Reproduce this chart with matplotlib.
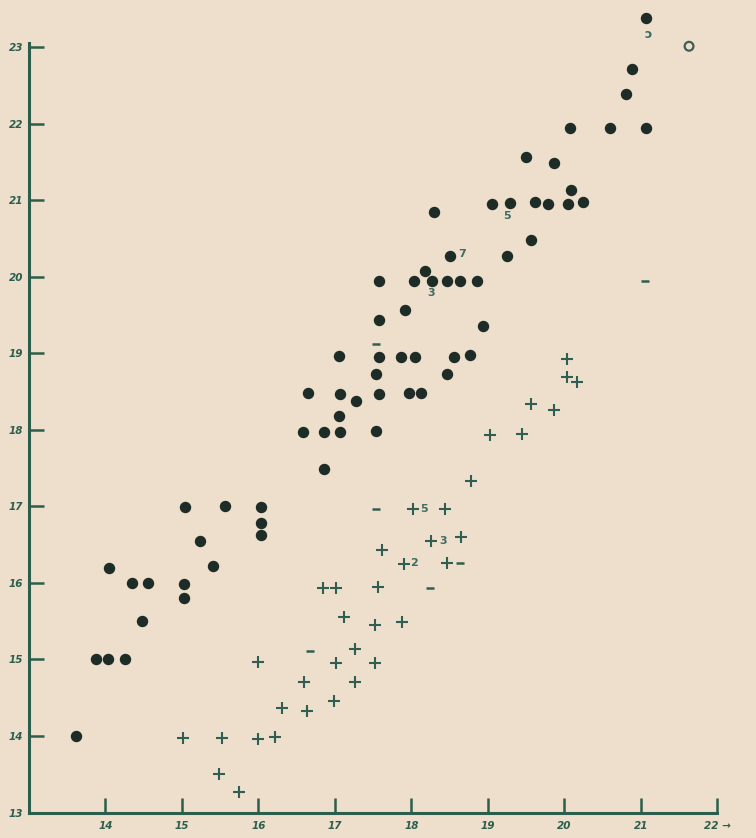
import matplotlib.pyplot as plt
import numpy as np

# filled dots (x, y)
dot_x = [13.62, 13.87, 14.03, 14.25, 14.05, 14.35, 14.55, 14.48, 15.03, 15.03,
         15.04, 15.24, 15.41, 15.56, 16.03, 16.03, 16.03, 16.86, 16.58, 16.86,
         17.06, 17.54, 17.05, 16.65, 17.06, 17.28, 17.57, 17.97, 18.12, 17.54,
         17.05, 17.57, 17.87, 18.05, 18.47, 18.56, 18.77, 18.93, 17.57, 17.91,
         17.57, 18.04, 18.27, 18.46, 18.63, 18.86, 18.18, 18.50, 19.25, 19.57,
         18.29, 19.05, 19.29, 19.62, 19.78, 20.05, 20.24, 20.08, 19.50, 19.87,
         20.07, 20.59, 21.07, 20.81, 20.88, 21.07]
dot_y = [14.00, 15.00, 15.00, 15.00, 16.20, 16.00, 16.00, 15.50, 15.99, 15.80,
         16.99, 16.55, 16.22, 17.00, 16.99, 16.78, 16.62, 17.49, 17.97, 17.97,
         17.97, 17.98, 18.18, 18.48, 18.47, 18.37, 18.47, 18.48, 18.48, 18.73,
         18.96, 18.95, 18.95, 18.95, 18.73, 18.95, 18.98, 19.36, 19.43, 19.56,
         19.94, 19.94, 19.94, 19.94, 19.94, 19.94, 20.07, 20.27, 20.27, 20.48,
         20.85, 20.95, 20.96, 20.98, 20.95, 20.95, 20.98, 21.13, 21.56, 21.48,
         21.94, 21.94, 21.94, 22.39, 22.71, 23.38]

# crosses
cross_x = [20.03, 20.03, 20.17, 19.56, 19.86, 19.03, 19.45, 18.78, 18.02, 18.44,
           18.25, 18.65, 17.61, 17.90, 18.46, 16.85, 17.02, 17.56, 17.12, 17.52,
           17.88, 17.26, 16.00, 17.02, 17.53, 16.60, 17.26, 16.99, 16.31, 16.64,
           15.02, 15.52, 15.99, 16.22, 15.49, 15.75]
cross_y = [18.92, 18.69, 18.62, 18.34, 18.26, 17.93, 17.95, 17.33, 16.96, 16.96,
           16.55, 16.60, 16.43, 16.25, 16.26, 15.93, 15.93, 15.95, 15.56, 15.45,
           15.49, 15.14, 14.97, 14.95, 14.95, 14.71, 14.71, 14.46, 14.37, 14.33,
           13.98, 13.98, 13.96, 13.99, 13.50, 13.27]

# small dash marks
dash_x = [17.54, 18.24, 16.67, 21.05, 17.54, 18.64]
dash_y = [16.96, 15.93, 15.11, 19.94, 19.12, 16.26]

# open circle
open_x = [21.63]
open_y = [23.01]

# handwritten numbers next to points
note_txt = ["5", "3", "2", "3", "7", "5", "\u0254"]
note_x = [18.17, 18.42, 18.04, 18.26, 18.66, 19.25, 21.09]
note_y = [16.96, 16.55, 16.26, 19.79, 20.30, 20.79, 23.17]

xticks = [14, 15, 16, 17, 18, 19, 20, 21, 22]
yticks = [13, 14, 15, 16, 17, 18, 19, 20, 21, 22, 23]

bg = "#eedfcc"
axc = "#2b5e4c"
dotc = "#1e2c28"
crossc = "#2f5e52"

fig = plt.figure(figsize=(7.56, 8.38), dpi=100, facecolor=bg)
ax = fig.add_axes([29 / 756, 25.4 / 838, 722 / 756, 811.5 / 838])
ax.set_facecolor(bg)
ax.set_xlim(13, 22.44)
ax.set_ylim(13, 23.6)

ax.scatter(dot_x, dot_y, s=52, color=dotc, zorder=3)
ax.scatter(cross_x, cross_y, marker="+", s=80, linewidths=1.5, color=crossc, zorder=3)
ax.scatter(dash_x, dash_y, marker="_", s=36, linewidths=1.8, color=crossc, zorder=3)
ax.scatter(open_x, open_y, s=40, facecolors="none", edgecolors="#3f5d55", linewidths=1.6, zorder=3)

for t, x, y in zip(note_txt, note_x, note_y):
    ax.text(x, y, t, color="#3f6b60", fontsize=9 if t == "\u0254" else 8,
            fontweight="bold", ha="center", va="center")

for s in ["top", "right"]:
    ax.spines[s].set_visible(False)
ax.spines["left"].set_bounds(13, 23.05)
ax.spines["bottom"].set_bounds(13, 22)
for s in ["left", "bottom"]:
    ax.spines[s].set_color(axc)
    ax.spines[s].set_linewidth(2.2)

ax.set_xticks(xticks)
ax.set_xticklabels([str(v) for v in xticks[:-1]] + ["22 \u2192"])
ax.set_yticks(yticks)
ax.set_yticklabels([str(v) for v in yticks])
ax.tick_params(direction="in", length=11, width=1.8, color=axc,
               labelcolor=axc, labelsize=7.5)
ax.tick_params(axis="y", pad=4)
ax.tick_params(axis="x", pad=6)
for lab in ax.get_xticklabels() + ax.get_yticklabels():
    lab.set_fontstyle("italic")
    lab.set_fontweight("bold")

fig.savefig("out.png", dpi=100, facecolor=bg)
